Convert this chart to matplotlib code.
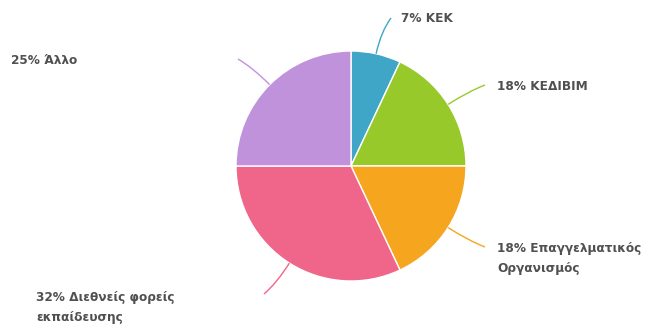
import matplotlib.pyplot as plt
from matplotlib.path import Path
from matplotlib.patches import PathPatch
import numpy as np

# data
labels = ["7% KEK", "18% ΚΕΔΙΒΙΜ", "18% Επαγγελματικός\nΟργανισμός",
          "32% Διεθνείς φορείς\nεκπαίδευσης", "25% Άλλο"]
values = [7, 18, 18, 32, 25]
colors = ["#40a6c7", "#98c92b", "#f6a51e", "#f0668a", "#c192dc"]

# label placement (pixel coords, y from top)
line_ends = [(391, 18), (485, 85), (485, 247), (264, 294), (238, 59)]
text_pos = [(401, 19), (497, 86), (497, 258.5), (36, 307), (11, 61)]

W, H = 645, 324
cx, cy, r = 351, 166, 115

fig = plt.figure(figsize=(W / 100, H / 100), dpi=100)
ax = fig.add_axes([0, 0, 1, 1])

ax.pie(values, colors=colors, startangle=90, counterclock=False,
       center=(cx, H - cy), radius=r,
       wedgeprops=dict(edgecolor="white", linewidth=1))

ax.set_xlim(0, W)
ax.set_ylim(0, H)
ax.set_aspect("equal")
ax.axis("off")

# curved connectors
start = 0
for v, col, (ex, ey) in zip(values, colors, line_ends):
    mid = (start + v / 2) / 100 * 2 * np.pi
    start += v
    dx, dy = np.sin(mid), np.cos(mid)
    p0 = (cx + r * dx, H - (cy - r * dy))
    d = np.hypot(ex - p0[0], (H - ey) - p0[1])
    k = d * 0.6
    p1 = (p0[0] + k * dx, p0[1] + k * dy)
    path = Path([p0, p1, (ex, H - ey)], [Path.MOVETO, Path.CURVE3, Path.CURVE3])
    ax.add_patch(PathPatch(path, fill=False, edgecolor=col, linewidth=1))

for lab, (tx, ty) in zip(labels, text_pos):
    ax.text(tx, H - ty, lab, ha="left", va="center", fontsize=8.7,
            fontweight="bold", color="#505050", linespacing=1.7,
            family="DejaVu Sans")

fig.savefig("out.png", dpi=100)
